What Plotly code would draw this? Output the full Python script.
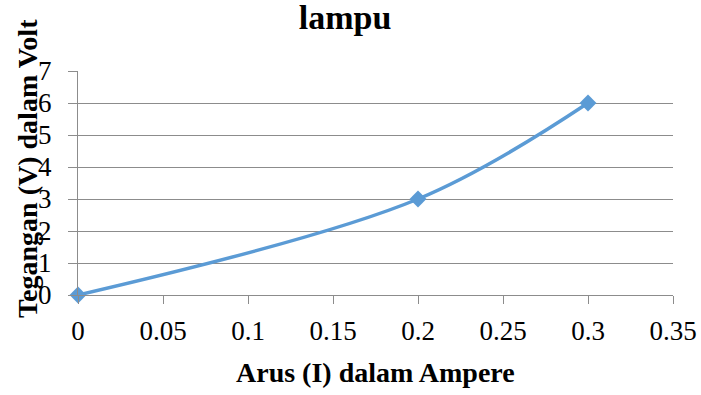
import plotly.graph_objects as go

arus = [0, 0.2, 0.3]
tegangan = [0, 3, 6]
x_ticks = [0, 0.05, 0.1, 0.15, 0.2, 0.25, 0.3, 0.35]
x_tick_text = ["0", "0.05", "0.1", "0.15", "0.2", "0.25", "0.3", "0.35"]
y_ticks = [0, 1, 2, 3, 4, 5, 6, 7]

FONT = "Liberation Serif, Times New Roman, serif"
BLUE = "#5B9BD5"
GRAY = "#8C8C8C"

fig = go.Figure()
fig.add_trace(go.Scatter(
    x=arus, y=tegangan, mode="lines+markers",
    line=dict(color=BLUE, width=3.5, shape="spline", smoothing=1),
    marker=dict(symbol="diamond", size=13, color=BLUE),
    cliponaxis=False, showlegend=False,
))

fig.update_layout(
    width=701, height=395,
    margin=dict(l=78, r=28, t=71, b=100),
    paper_bgcolor="white", plot_bgcolor="white",
    font=dict(family=FONT, color="black"),
    title=dict(text="<b>lampu</b>", x=345 / 701, xanchor="center",
               y=1 - 17 / 395, yanchor="middle",
               font=dict(family=FONT, size=34, color="black")),
    xaxis=dict(
        range=[0, 0.35], tickvals=x_ticks, ticktext=x_tick_text,
        showgrid=False, zeroline=False, automargin=False,
        showline=True, linecolor=GRAY, linewidth=1,
        ticks="outside", ticklen=8, tickcolor=GRAY,
        ticklabelstandoff=4,
        tickfont=dict(family=FONT, size=27, color="black"),
    ),
    yaxis=dict(
        range=[0, 7], tickvals=y_ticks,
        showgrid=True, gridcolor=GRAY, gridwidth=1, zeroline=False,
        automargin=False,
        showline=True, linecolor=GRAY, linewidth=1,
        ticks="outside", ticklen=9, tickcolor=GRAY,
        ticklabelstandoff=11,
        tickfont=dict(family=FONT, size=27, color="black"),
    ),
    annotations=[
        dict(text="<b>Arus (I) dalam Ampere</b>", xref="paper", yref="paper",
             x=0.5, y=0, xanchor="center", yanchor="middle",
             yshift=-(372 - 295), showarrow=False,
             font=dict(family=FONT, size=28, color="black")),
        dict(text="<b>Tegangan (V) dalam Volt</b>", xref="paper", yref="paper",
             x=0, y=0.5, xanchor="center", yanchor="middle", textangle=-90,
             xshift=-(78 - 27), yshift=(183 - 169), showarrow=False,
             font=dict(family=FONT, size=28, color="black")),
    ],
)

fig.write_html("out.html", config={"displayModeBar": False},
               post_script="document.body.style.margin='0';document.body.style.overflow='hidden';")
